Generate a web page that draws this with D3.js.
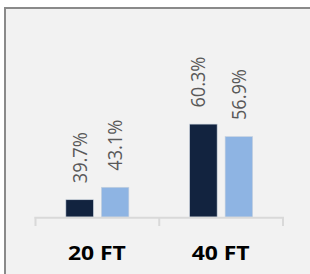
<!DOCTYPE html>
<html>
<head>
<meta charset="utf-8">
<script src="https://cdn.jsdelivr.net/npm/d3@7/dist/d3.min.js"></script>
<style>
  html, body { margin: 0; padding: 0; background: #ffffff; }
  svg { display: block; }
</style>
</head>
<body>
<script>
// ---- data ----
const categories = ["20 FT", "40 FT"];
const seriesNames = ["Series 1", "Series 2"];
const series1 = [39.7, 60.3];
const series2 = [43.1, 56.9];
const valueLabels1 = ["39.7%", "60.3%"];
const valueLabels2 = ["43.1%", "56.9%"];

// ---- layout ----
const W = 310, H = 274;
const colors = ["#12233f", "#8eb4e3"];
const svg = d3.select("body").append("svg").attr("width", W).attr("height", H);

svg.append("rect").attr("width", W).attr("height", H).attr("fill", "#ffffff");
svg.append("rect").attr("x", 4).attr("y", 7).attr("width", W - 4).attr("height", H - 7).attr("fill", "#f2f2f2");
// frame (top and left)
svg.append("line").attr("x1", 4).attr("x2", W).attr("y1", 8).attr("y2", 8)
  .attr("stroke", "#8a8a8a").attr("stroke-width", 2);
svg.append("line").attr("x1", 5).attr("x2", 5).attr("y1", 7).attr("y2", H)
  .attr("stroke", "#8a8a8a").attr("stroke-width", 2);

const x0 = d3.scaleBand().domain(categories).range([35.5, 283]).paddingInner(0).paddingOuter(0);
const groupW = 63;
const x1 = d3.scaleBand().domain(seriesNames)
  .range([(x0.bandwidth() - groupW) / 2, (x0.bandwidth() + groupW) / 2])
  .paddingInner(0.225).paddingOuter(0);
const y = d3.scaleLinear().domain([35, 70]).range([217, 88.5]);

const rows = [];
categories.forEach((c, i) => {
  rows.push({ cat: c, s: seriesNames[0], v: series1[i], label: valueLabels1[i], ci: 0 });
  rows.push({ cat: c, s: seriesNames[1], v: series2[i], label: valueLabels2[i], ci: 1 });
});

// bars
svg.append("g").selectAll("rect").data(rows).join("rect")
  .attr("x", d => x0(d.cat) + x1(d.s))
  .attr("y", d => y(d.v))
  .attr("width", x1.bandwidth())
  .attr("height", d => y(35) - y(d.v))
  .attr("fill", d => colors[d.ci])
  .attr("stroke", "#c8d2de")
  .attr("stroke-width", 0.6);

// axis line + ticks
const axisG = svg.append("g");
axisG.append("line").attr("x1", x0.range()[0] - 1).attr("x2", x0.range()[1] + 1)
  .attr("y1", 217.8).attr("y2", 217.8).attr("stroke", "#d9d9d9").attr("stroke-width", 2);
const tickXs = categories.map(c => x0(c)).concat([x0.range()[1]]);
axisG.selectAll("line.tick").data(tickXs).join("line").attr("class", "tick")
  .attr("x1", d => d).attr("x2", d => d).attr("y1", 217).attr("y2", 226)
  .attr("stroke", "#d9d9d9").attr("stroke-width", 2);

// value labels (rotated)
const nudge = { "40 FT|Series 1": -5 };
svg.append("g").selectAll("text").data(rows).join("text")
  .attr("transform", d => {
    const cx = x0(d.cat) + x1(d.s) + x1.bandwidth() / 2 + (nudge[d.cat + "|" + d.s] || 0);
    return `translate(${cx},${y(d.v) - 16.5}) rotate(-90)`;
  })
  .attr("dy", "0.36em")
  .attr("text-anchor", "start")
  .attr("font-family", "'Open Sans', sans-serif")
  .attr("font-size", 19.5)
  .attr("fill", "#595959")
  .attr("textLength", 51)
  .attr("lengthAdjust", "spacingAndGlyphs")
  .text(d => d.label);

// category labels
svg.append("g").selectAll("text").data(categories).join("text")
  .attr("x", d => x0(d) + x0.bandwidth() / 2 - 0.5)
  .attr("y", 260)
  .attr("text-anchor", "middle")
  .attr("font-family", "'Open Sans', sans-serif")
  .attr("font-weight", "bold")
  .attr("font-size", 20)
  .attr("fill", "#000000")
  .attr("textLength", 58)
  .attr("lengthAdjust", "spacingAndGlyphs")
  .text(d => d);
</script>
</body>
</html>
